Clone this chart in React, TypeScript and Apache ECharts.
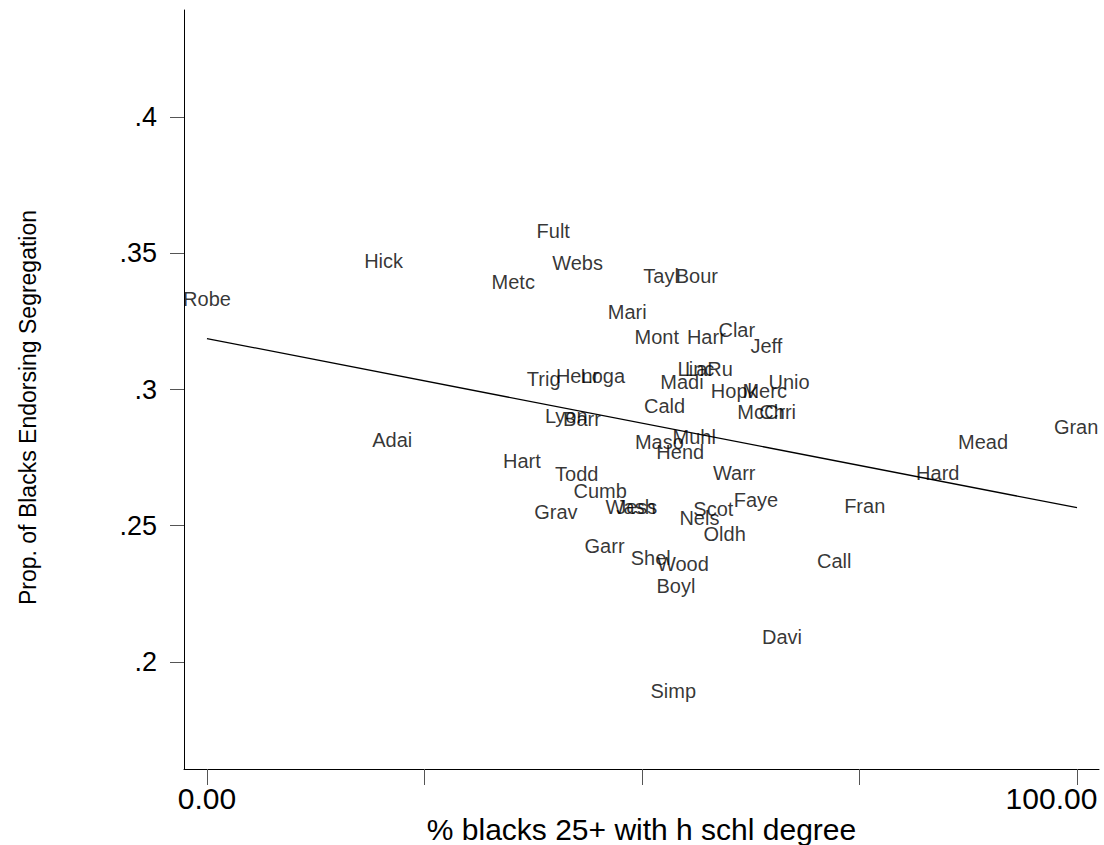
import React, { useEffect, useRef } from "react";
import * as echarts from "echarts";

const countyNames = [
  "Robe", "Hick", "Metc", "Fult", "Webs", "Tayl", "Bour", "Mari", "Mont", "Harr",
  "Clar", "Jeff", "Trig", "Henr", "Loga", "Madi", "Linc", "LaRu", "Hopk", "Merc",
  "Unio", "Cald", "McCr", "Chri", "Lyon", "Barr", "Muhl", "Maso", "Hend", "Adai",
  "Hart", "Todd", "Warr", "Cumb", "Wash", "Jess", "Grav", "Scot", "Faye", "Nels",
  "Oldh", "Garr", "Shel", "Wood", "Boyl", "Call", "Davi", "Simp", "Fran", "Hard",
  "Mead", "Gran",
];
const pctHsDegree = [
  0.0, 20.3, 35.2, 39.8, 42.6, 52.2, 56.3, 48.3, 51.7, 57.4,
  60.9, 64.3, 38.7, 42.6, 45.5, 54.6, 56.2, 57.7, 60.6, 64.1,
  66.9, 52.6, 63.7, 65.6, 41.3, 43.1, 56.0, 52.0, 54.4, 21.3,
  36.2, 42.5, 60.6, 45.2, 48.7, 49.4, 40.1, 58.2, 63.1, 56.6,
  59.5, 45.7, 51.0, 54.7, 53.9, 72.1, 66.1, 53.6, 75.6, 84.0,
  89.2, 99.9,
];
const propSegregation = [
  0.3334, 0.3473, 0.3396, 0.3583, 0.3466, 0.3415, 0.3415, 0.3286, 0.3191, 0.3191,
  0.3217, 0.3158, 0.3037, 0.3048, 0.3048, 0.3029, 0.3077, 0.3077, 0.2996, 0.2996,
  0.3029, 0.2941, 0.2916, 0.2916, 0.2901, 0.2890, 0.2824, 0.2806, 0.2772, 0.2813,
  0.2736, 0.2688, 0.2695, 0.2626, 0.2567, 0.2567, 0.2552, 0.2560, 0.2593, 0.2530,
  0.2468, 0.2424, 0.2380, 0.2361, 0.2277, 0.2372, 0.2090, 0.1892, 0.2571, 0.2695,
  0.2806, 0.2861,
];
const fitX = [0, 100];
const fitY = [0.3187, 0.2566];
const xTicks = [0, 25, 50, 75, 100];
const xLabelTicks = [0, 100];
const yTicks = [0.2, 0.25, 0.3, 0.35, 0.4];

const FONT = "'Liberation Sans', Arial, sans-serif";

export default function App() {
  const ref = useRef<HTMLDivElement>(null);
  useEffect(() => {
    document.documentElement.style.overflow = "hidden";
    document.body.style.margin = "0";
    document.body.style.overflow = "hidden";
    const chart = echarts.init(ref.current!, null, { renderer: "svg", width: 1104, height: 845 });
    const pts = countyNames.map((n, i) => ({ name: n, value: [pctHsDegree[i], propSegregation[i]] }));
    chart.setOption({
      animation: false,
      backgroundColor: "#ffffff",
      grid: { left: 184, right: 5, top: 10, bottom: 76, containLabel: false, outerBoundsMode: "none" },
      xAxis: {
        type: "value",
        min: -2.64,
        max: 102.53,
        name: "% blacks 25+ with h schl degree",
        nameLocation: "middle",
        nameGap: 45,
        nameMoveOverlap: false,
        nameTextStyle: { fontFamily: FONT, fontSize: 30, color: "#000" },
        axisLine: { onZero: false, lineStyle: { color: "#000", width: 1 } },
        axisTick: { show: true, inside: false, length: 16, customValues: xTicks, lineStyle: { color: "#555" } },
        axisLabel: {
          customValues: xLabelTicks,
          margin: 14,
          fontFamily: FONT,
          fontSize: 30,
          color: "#000",
          formatter: (v: number) => (v >= 100 ? "{r|" + v.toFixed(2) + "}" : v.toFixed(2)),
          rich: {
            r: { fontFamily: FONT, fontSize: 30, color: "#000", padding: [0, 51, 0, 0] },
          },
        },
        splitLine: { show: false },
      },
      yAxis: {
        type: "value",
        min: 0.1607,
        max: 0.4393,
        name: "Prop. of Blacks Endorsing Segregation",
        nameLocation: "middle",
        nameGap: 145,
        nameMoveOverlap: false,
        nameTextStyle: { fontFamily: FONT, fontSize: 23, color: "#000", padding: [0, 36, 0, 0] },
        axisLine: { show: true, onZero: false, lineStyle: { color: "#000", width: 1 } },
        axisTick: { show: true, inside: false, length: 14, customValues: yTicks, lineStyle: { color: "#555" } },
        axisLabel: {
          customValues: yTicks,
          margin: 27,
          fontFamily: FONT,
          fontSize: 27,
          color: "#000",
          formatter: (v: number) => String(Math.round(v * 100) / 100).replace(/^0/, ""),
        },
        splitLine: { show: false },
      },
      series: [
        {
          type: "line",
          data: fitX.map((x, i) => [x, fitY[i]]),
          symbol: "none",
          lineStyle: { color: "#000", width: 1.3 },
          silent: true,
          z: 1,
        },
        {
          type: "scatter",
          data: pts,
          symbolSize: 1,
          itemStyle: { color: "rgba(0,0,0,0)" },
          label: {
            show: true,
            position: "inside",
            formatter: (p: any) => p.name,
            fontFamily: FONT,
            fontSize: 20,
            color: "#000",
          },
          z: 2,
        },
      ],
    });
    return () => chart.dispose();
  }, []);
  return (
    <div
      ref={ref}
      style={{ position: "fixed", left: 0, top: 0, width: 1104, height: 845, overflow: "hidden" }}
    />
  );
}
